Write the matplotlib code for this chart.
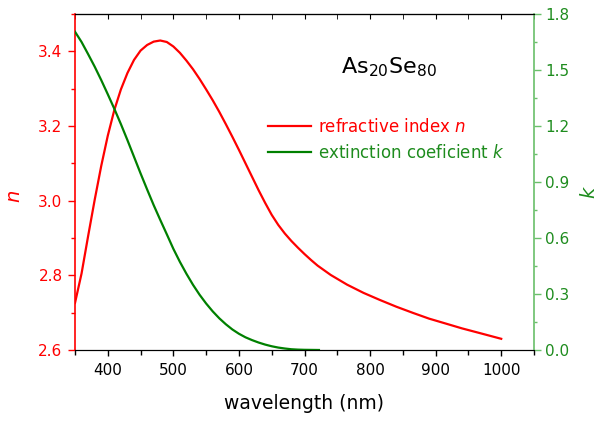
import matplotlib
matplotlib.use('Agg')
import matplotlib.pyplot as plt
from matplotlib.ticker import MultipleLocator

plt.rcParams['font.family'] = 'DejaVu Sans'
plt.rcParams['mathtext.default'] = 'regular'

# refractive index n
wl_n = [350, 360, 370, 380, 390, 400, 410, 420, 430, 440, 450, 460, 470, 480,
        490, 500, 510, 520, 530, 540, 550, 560, 570, 580, 590, 600, 610, 620,
        630, 640, 650, 660, 670, 680, 690, 700, 710, 720, 740, 765, 790, 815,
        840, 866, 890, 917, 940, 968, 1000]
n_vals = [2.726, 2.805, 2.905, 3.002, 3.093, 3.174, 3.243, 3.298, 3.342, 3.377,
          3.402, 3.417, 3.426, 3.429, 3.425, 3.413, 3.396, 3.375, 3.352, 3.326,
          3.298, 3.269, 3.238, 3.205, 3.171, 3.136, 3.100, 3.064, 3.028, 2.994,
          2.962, 2.935, 2.912, 2.892, 2.874, 2.857, 2.841, 2.826, 2.801, 2.775,
          2.753, 2.734, 2.716, 2.699, 2.684, 2.670, 2.658, 2.645, 2.630]

# extinction coefficient k
wl_k = [350, 360, 370, 380, 390, 400, 410, 420, 430, 440, 450, 460, 470, 480,
        490, 500, 510, 520, 530, 540, 550, 560, 570, 580, 590, 600, 610, 620,
        630, 640, 650, 660, 670, 680, 690, 700, 722]
k_vals = [1.705, 1.650, 1.585, 1.518, 1.446, 1.370, 1.292, 1.210, 1.124, 1.035,
          0.946, 0.860, 0.776, 0.697, 0.620, 0.542, 0.472, 0.408, 0.349, 0.296,
          0.249, 0.207, 0.170, 0.138, 0.110, 0.087, 0.068, 0.053, 0.040, 0.029,
          0.020, 0.013, 0.008, 0.004, 0.002, 0.001, 0.000]

RED = '#ff0000'
GREEN = '#008000'
GREEN_TXT = '#1e8c1e'
GREEN_SPINE = '#6abf6a'

fig = plt.figure(figsize=(5.97, 4.23), dpi=100)
ax = fig.add_axes([75/597, 1-350/423, (534-75)/597, (350-14)/423])
ax2 = ax.twinx()

l1, = ax.plot(wl_n, n_vals, color=RED, lw=1.6, label='refractive index $\\mathit{n}$')
l2, = ax2.plot(wl_k, k_vals, color=GREEN, lw=1.6, label='extinction coeficient $\\mathit{k}$')

ax.set_xlim(350, 1050)
ax.set_ylim(2.6, 3.5)
ax2.set_ylim(0, 1.8)

ax.xaxis.set_major_locator(MultipleLocator(100))
ax.xaxis.set_minor_locator(MultipleLocator(50))
ax.yaxis.set_major_locator(MultipleLocator(0.2))
ax.yaxis.set_minor_locator(MultipleLocator(0.1))
ax2.yaxis.set_major_locator(MultipleLocator(0.3))
ax2.yaxis.set_minor_locator(MultipleLocator(0.15))
ax.yaxis.set_major_formatter(lambda v, p: '%.1f' % v)
ax2.yaxis.set_major_formatter(lambda v, p: '%.1f' % v)

ax.tick_params(axis='x', which='major', length=4, width=1, pad=5, labelsize=11)
ax.tick_params(axis='x', which='minor', length=3.5, width=1)
ax.tick_params(axis='y', which='major', length=5, width=1, pad=4, labelsize=11,
               color=RED, labelcolor=RED)
ax.tick_params(axis='y', which='minor', length=3, width=1, color=RED)
ax2.tick_params(axis='y', which='major', length=5, width=1, pad=3, labelsize=11,
                color=GREEN_SPINE, labelcolor=GREEN_TXT)
ax2.tick_params(axis='y', which='minor', length=2.5, width=1, color=GREEN_SPINE)

# top axis ticks point inward
top = ax.secondary_xaxis('top')
top.xaxis.set_major_locator(MultipleLocator(100))
top.xaxis.set_minor_locator(MultipleLocator(50))
top.tick_params(which='both', direction='in', length=3.5, labeltop=False)

ax.spines['left'].set_color(RED)
ax.spines['left'].set_linewidth(1.2)
ax.spines['right'].set_visible(False)
ax2.spines['left'].set_visible(False)
ax2.spines['right'].set_color(GREEN_SPINE)
ax2.spines['right'].set_linewidth(1.2)

ax.set_xlabel('wavelength (nm)', fontsize=13.5, labelpad=12)
fig.text(14/597, 1-196/423, 'n', color=RED, fontsize=14, style='italic',
         rotation=90, ha='center', va='center')
fig.text(589/597, 1-192/423, 'k', color=GREEN_TXT, fontsize=14, style='italic',
         rotation=90, ha='center', va='center')

fig.text(389/597, 1-73/423, 'As$_{20}$Se$_{80}$', fontsize=16, ha='center',
         va='baseline')

leg = ax2.legend(handles=[l1, l2], loc='center left',
                 bbox_to_anchor=(268/597, 1-140/423), bbox_transform=fig.transFigure,
                 frameon=False, fontsize=12, handlelength=2.6, handletextpad=0.4,
                 labelspacing=0.5, borderpad=0, borderaxespad=0)
for txt, c in zip(leg.get_texts(), [RED, GREEN_TXT]):
    txt.set_color(c)

fig.savefig('out.png', dpi=100)
